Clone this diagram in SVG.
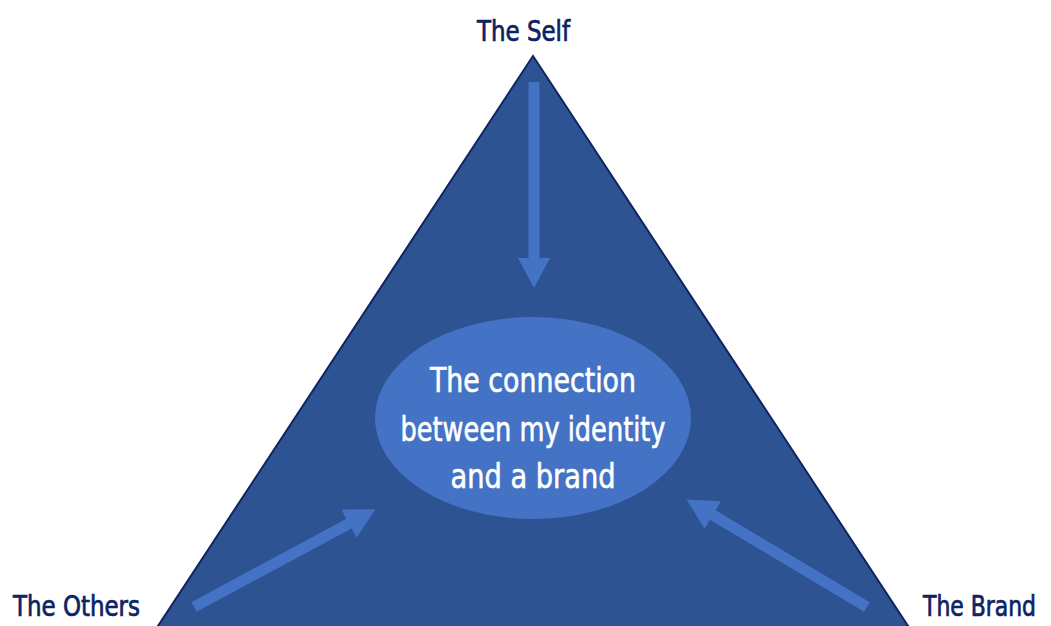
<svg xmlns="http://www.w3.org/2000/svg" width="1051" height="626" viewBox="0 0 1051 626">
  <style>
    .label { font-family: 'DejaVu Sans Condensed', 'DejaVu Sans', sans-serif; font-stretch: condensed; font-size: 28px; fill: #0C2462; stroke: #0C2462; stroke-width: 0.7px; }
    .center { font-family: 'DejaVu Sans Condensed', 'DejaVu Sans', sans-serif; font-stretch: condensed; font-size: 34px; fill: #FFFFFF; stroke: #FFFFFF; stroke-width: 0.6px; text-anchor: middle; }
    .arrow { fill: #4472C4; }
  </style>
  <defs>
    <!-- block arrow pointing along +x, tail at origin -->
    <path id="blockArrow" d="M0,-5.5 L176,-5.5 L176,-16 L206,0 L176,16 L176,5.5 L0,5.5 Z"/>
  </defs>
  <rect width="1051" height="626" fill="#FFFFFF"/>

  <g id="triangle">
    <polygon points="533,56 154,632 912,632" fill="#2E5393" stroke="#0F2460" stroke-width="2" stroke-linejoin="miter"/>
  </g>

  <g id="connectors" class="arrow">
    <use href="#blockArrow" transform="translate(534,82) rotate(90)"/>
    <use href="#blockArrow" transform="translate(194,607) rotate(-28.3)"/>
    <use href="#blockArrow" transform="translate(867,607) rotate(-149.2) scale(1.02,1)"/>
  </g>

  <g id="node-center">
    <ellipse cx="533" cy="418" rx="158" ry="101" fill="#4472C4"/>
    <text class="center" x="533" y="392" textLength="206" lengthAdjust="spacingAndGlyphs">The connection</text>
    <text class="center" x="533" y="441" textLength="265" lengthAdjust="spacingAndGlyphs">between my identity</text>
    <text class="center" x="533" y="488" textLength="165" lengthAdjust="spacingAndGlyphs">and a brand</text>
  </g>

  <g id="node-self">
    <text class="label" x="477" y="41" textLength="93" lengthAdjust="spacingAndGlyphs">The Self</text>
  </g>
  <g id="node-others">
    <text class="label" x="13" y="616" textLength="127" lengthAdjust="spacingAndGlyphs">The Others</text>
  </g>
  <g id="node-brand">
    <text class="label" x="1036" y="616" text-anchor="end" textLength="113" lengthAdjust="spacingAndGlyphs">The Brand</text>
  </g>
</svg>
